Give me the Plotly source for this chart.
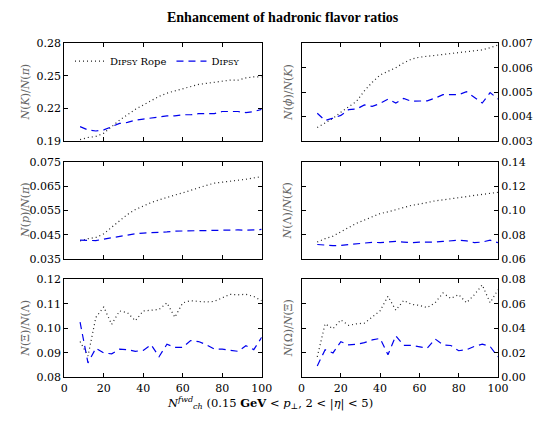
import plotly.graph_objects as go

x = [8, 12, 16, 20, 24, 28, 32, 36, 40, 44, 48, 52, 56, 60, 64, 68, 72, 76, 80, 84, 88, 92, 96, 100]

k_pi_rope = [0.191, 0.193, 0.194, 0.197, 0.203, 0.209, 0.214, 0.219, 0.223, 0.227, 0.231, 0.234,
             0.236, 0.238, 0.240, 0.242, 0.243, 0.244, 0.245, 0.246, 0.246, 0.248, 0.249, 0.249]
k_pi_dipsy = [0.203, 0.200, 0.199, 0.200, 0.203, 0.206, 0.207, 0.209, 0.210, 0.211, 0.212, 0.213,
              0.213, 0.214, 0.214, 0.215, 0.215, 0.215, 0.217, 0.217, 0.217, 0.216, 0.217, 0.219]

phi_k_rope = [0.00354, 0.00372, 0.00392, 0.00417, 0.00440, 0.00462, 0.00505, 0.00540, 0.00570, 0.00585,
              0.00600, 0.00620, 0.00635, 0.00643, 0.00646, 0.00650, 0.00654, 0.00658, 0.00662, 0.00665,
              0.00668, 0.00673, 0.00682, 0.00693]
phi_k_dipsy = [0.00413, 0.00383, 0.00393, 0.00404, 0.00428, 0.00430, 0.00447, 0.00441, 0.00453, 0.00471,
               0.00455, 0.00474, 0.00462, 0.00464, 0.00464, 0.00475, 0.00489, 0.00489, 0.00489, 0.00501,
               0.00478, 0.00455, 0.00498, 0.00471]

p_pi_rope = [0.0425, 0.0434, 0.0439, 0.0454, 0.0481, 0.0507, 0.0534, 0.0554, 0.0570, 0.0583, 0.0594, 0.0605,
             0.0614, 0.0623, 0.0634, 0.0643, 0.0654, 0.0663, 0.0668, 0.0672, 0.0675, 0.0679, 0.0683, 0.0690]
p_pi_dipsy = [0.0428, 0.0427, 0.0426, 0.0432, 0.0438, 0.0445, 0.0450, 0.0454, 0.0457, 0.0458, 0.0460, 0.0462,
              0.0465, 0.0466, 0.0465, 0.0467, 0.0468, 0.0469, 0.0470, 0.0470, 0.0470, 0.0469, 0.0471, 0.0472]

lam_k_rope = [0.0740, 0.0768, 0.0789, 0.0821, 0.0860, 0.0895, 0.0922, 0.0953, 0.0975, 0.0989, 0.1008, 0.1027,
              0.1043, 0.1053, 0.1067, 0.1080, 0.1088, 0.1099, 0.1107, 0.1115, 0.1125, 0.1133, 0.1141, 0.1150]
lam_k_dipsy = [0.0720, 0.0715, 0.0710, 0.0712, 0.0718, 0.0725, 0.0735, 0.0738, 0.0735, 0.0742, 0.0745, 0.0740,
               0.0735, 0.0740, 0.0738, 0.0740, 0.0745, 0.0750, 0.0755, 0.0750, 0.0735, 0.0740, 0.0755, 0.0735]

xi_lam_rope = [0.0946, 0.0887, 0.1045, 0.1087, 0.1016, 0.1071, 0.1064, 0.1031, 0.1071, 0.1073, 0.1077, 0.1104,
               0.1045, 0.1104, 0.1113, 0.1110, 0.1108, 0.1110, 0.1123, 0.1139, 0.1137, 0.1139, 0.1130, 0.1113]
xi_lam_dipsy = [0.1025, 0.0859, 0.0919, 0.0899, 0.0896, 0.0915, 0.0913, 0.0906, 0.0910, 0.0933, 0.0884, 0.0935,
                0.0922, 0.0922, 0.0950, 0.0946, 0.0933, 0.0915, 0.0915, 0.0910, 0.0906, 0.0929, 0.0913, 0.0963]

om_xi_rope = [0.0167, 0.0437, 0.0397, 0.0469, 0.0424, 0.0437, 0.0442, 0.0490, 0.0543, 0.0662, 0.0548, 0.0628,
              0.0596, 0.0588, 0.0569, 0.0609, 0.0689, 0.0644, 0.0675, 0.0609, 0.0675, 0.0755, 0.0609, 0.0715]
om_xi_dipsy = [0.0093, 0.0225, 0.0199, 0.0291, 0.0265, 0.0270, 0.0283, 0.0305, 0.0318, 0.0185, 0.0339, 0.0260,
               0.0260, 0.0252, 0.0238, 0.0313, 0.0265, 0.0260, 0.0217, 0.0225, 0.0252, 0.0270, 0.0252, 0.0167]

x_ticks = [0, 20, 40, 60, 80, 100]

panels = [
    # (rope, dipsy, yrange, dtick, fmt, title, side)
    (k_pi_rope, k_pi_dipsy, [0.19, 0.28], 0.03, ".2f", "<i>N</i>(<i>K</i>)/<i>N</i>(<i>π</i>)", "left"),
    (phi_k_rope, phi_k_dipsy, [0.003, 0.007], 0.001, ".3f", "<i>N</i>(<i>ϕ</i>)/<i>N</i>(<i>K</i>)", "right"),
    (p_pi_rope, p_pi_dipsy, [0.035, 0.075], 0.01, ".3f", "<i>N</i>(<i>p</i>)/<i>N</i>(<i>π</i>)", "left"),
    (lam_k_rope, lam_k_dipsy, [0.06, 0.14], 0.02, ".2f", "<i>N</i>(Λ)/<i>N</i>(<i>K</i>)", "right"),
    (xi_lam_rope, xi_lam_dipsy, [0.08, 0.12], 0.01, ".2f", "<i>N</i>(Ξ)/<i>N</i>(Λ)", "left"),
    (om_xi_rope, om_xi_dipsy, [0.0, 0.08], 0.02, ".2f", "<i>N</i>(Ω)/<i>N</i>(Ξ)", "right"),
]

W, H = 543, 425
xdom = {"left": [62 / W, 265 / W], "right": [306 / W, 508 / W]}
ydoms = [[1 - 139 / H, 1 - 38.5 / H], [1 - 261 / H, 1 - 161 / H], [1 - 383 / H, 1 - 282 / H]]

FONT = "DejaVu Serif"
small = "D<span style='font-size:8px'>IPSY</span>"

fig = go.Figure()
layout = dict(
    width=W, height=H, margin=dict(l=0, r=0, t=0, b=0),
    paper_bgcolor="white", plot_bgcolor="white",
    font=dict(family=FONT, size=11, color="black"),
    showlegend=True,
    legend=dict(orientation="h", x=0.125, y=1 - 42 / H, xanchor="left", yanchor="top",
                bgcolor="rgba(0,0,0,0)", font=dict(size=10, family=FONT),
                itemwidth=30, tracegroupgap=0),
)
annotations = []

for i, (rope, dipsy, yr, dt, fmt, ytitle, side) in enumerate(panels):
    n = i + 1
    row = i // 2
    xa = "x" if n == 1 else f"x{n}"
    ya = "y" if n == 1 else f"y{n}"
    fig.add_trace(go.Scatter(x=x, y=rope, mode="lines", xaxis=xa, yaxis=ya,
                             line=dict(color="#222222", width=1.2, dash="1px,3px"),
                             name=small + " Rope", showlegend=(n == 1)))
    fig.add_trace(go.Scatter(x=x, y=dipsy, mode="lines", xaxis=xa, yaxis=ya,
                             line=dict(color="#0000ee", width=1.2, dash="7px,5px"),
                             name=small, showlegend=(n == 1)))
    xkey = "xaxis" if n == 1 else f"xaxis{n}"
    ykey = "yaxis" if n == 1 else f"yaxis{n}"
    layout[xkey] = dict(domain=xdom[side], range=[0, 100], anchor=ya,
                        tickvals=x_ticks, showticklabels=(row == 2),
                        ticks="inside", ticklen=4, tickcolor="black",
                        showline=True, linecolor="black", linewidth=1.2, mirror="ticks",
                        showgrid=False, zeroline=False,
                        tickfont=dict(family=FONT, size=11))
    layout[ykey] = dict(domain=ydoms[row], range=yr, anchor=xa, side=side,
                        dtick=dt, tick0=yr[0], tickformat=fmt,
                        ticks="inside", ticklen=4, tickcolor="black",
                        showline=True, linecolor="black", linewidth=1.2, mirror="ticks",
                        showgrid=False, zeroline=False,
                        tickfont=dict(family=FONT, size=11))
    ymid = (ydoms[row][0] + ydoms[row][1]) / 2
    xpos = 22 / W if side == "left" else 292 / W
    annotations.append(dict(text=ytitle, x=xpos, y=ymid, xref="paper", yref="paper",
                            showarrow=False, textangle=-90, xanchor="center", yanchor="middle",
                            font=dict(family=FONT, size=11, color="#666666")))

annotations.append(dict(text="<b>Enhancement of hadronic flavor ratios</b>", x=287 / W, y=1 - 12 / H,
                        xref="paper", yref="paper", showarrow=False, xanchor="center", yanchor="middle",
                        font=dict(family="Liberation Serif", size=14, color="black")))
annotations.append(dict(text="<i>N</i><sup><i>fwd</i></sup><sub><i>ch</i></sub> (0.15 <b>GeV</b> &lt; <i>p</i><sub>⊥</sub>, 2 &lt; |<i>η</i>| &lt; 5)",
                        x=274 / W, y=1 - 410 / H, xref="paper", yref="paper", showarrow=False,
                        xanchor="center", yanchor="middle",
                        font=dict(family=FONT, size=11.5, color="black")))
layout["annotations"] = annotations
fig.update_layout(**layout)
fig.write_html("out.html")
